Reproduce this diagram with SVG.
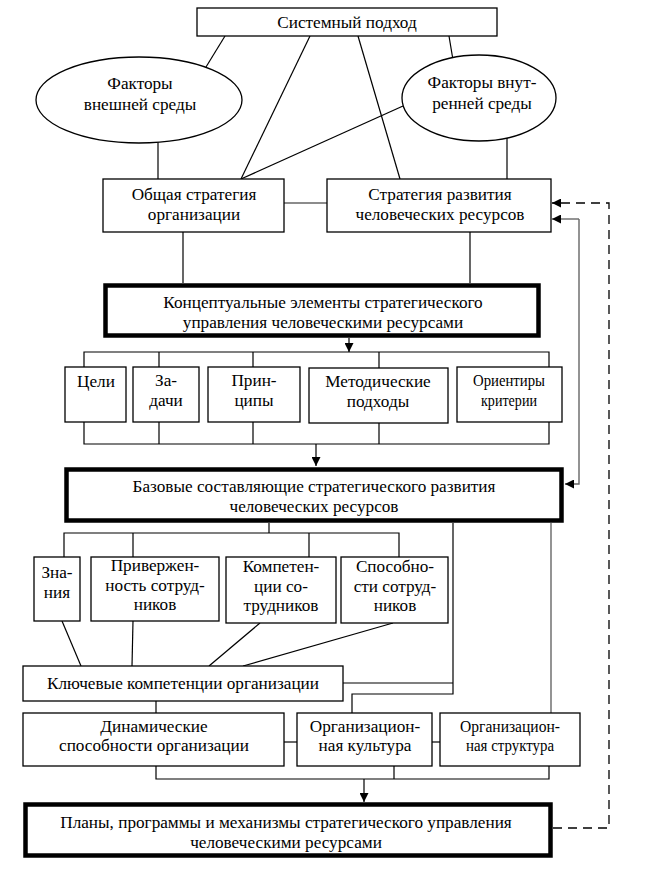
<svg xmlns="http://www.w3.org/2000/svg" width="646" height="872" viewBox="0 0 646 872">
<style>
.b{fill:#fff;stroke:#000;stroke-width:1.3}
.k{fill:#fff;stroke:#000;stroke-width:4.5}
.t{font-family:"Liberation Serif","DejaVu Serif",serif;font-size:17.2px;fill:#000;text-anchor:middle}
.l{fill:none;stroke:#000;stroke-width:1.2}
.g{fill:none;stroke:#666;stroke-width:1.4}
.d{fill:none;stroke:#000;stroke-width:1.3;stroke-dasharray:9,6}
</style>
<defs>
<marker id="a" viewBox="0 0 10 10" refX="10" refY="5" markerWidth="10" markerHeight="9" markerUnits="userSpaceOnUse" orient="auto">
<path d="M0,0 L10,5 L0,10 z" fill="#000"/>
</marker>
</defs>
<rect width="646" height="872" fill="#fff"/>
<g id="connectors">
<line class="l" x1="225" y1="36" x2="206" y2="67"/>
<line class="l" x1="310" y1="36" x2="241" y2="179"/>
<line class="l" x1="358" y1="36" x2="400" y2="179"/>
<line class="l" x1="449" y1="36" x2="453" y2="60"/>
<line class="l" x1="403" y1="106" x2="241" y2="179"/>
<line class="l" x1="158" y1="141" x2="158" y2="179"/>
<line class="l" x1="507" y1="138" x2="507" y2="179"/>
<line class="g" x1="284" y1="203" x2="327" y2="203"/>
<line class="l" x1="183" y1="232" x2="183" y2="283"/>
<line class="l" x1="470" y1="232" x2="470" y2="283"/>
<line class="l" x1="349" y1="338" x2="349" y2="352" marker-end="url(#a)"/>
<path class="l" d="M84,367 V352 H549 V367 M159,352 V367 M253,352 V367 M379,352 V368"/>
<path class="l" d="M84,422 V444 H549 V422 M159,422 V444 M253,422 V444 M379,423 V444"/>
<line class="l" x1="316" y1="444" x2="316" y2="466" marker-end="url(#a)"/>
<path class="g" d="M579,219 V484 H565" marker-end="url(#a)"/>
<path class="g" d="M579,219 H552" marker-end="url(#a)"/>
<path class="d" d="M553,828 H609 V203 H552" marker-end="url(#a)"/>
<path class="l" d="M269,523 V533 M64,557 V533 H399 V557 M133,533 V557 M309,533 V557"/>
<line class="l" x1="62" y1="621" x2="81" y2="666"/>
<line class="l" x1="133" y1="621" x2="132" y2="666"/>
<line class="l" x1="260" y1="623" x2="209" y2="666"/>
<line class="l" x1="393" y1="623" x2="243" y2="666"/>
<path class="l" d="M343,683 H453 V523 M453,683 V694 H352 V713"/>
<line class="g" x1="551" y1="523" x2="551" y2="713"/>
<line class="l" x1="156" y1="701" x2="156" y2="713"/>
<line class="l" x1="284" y1="742" x2="297" y2="742"/>
<line class="l" x1="432" y1="742" x2="440" y2="742"/>
<path class="l" d="M156,766 V779 H549 V766 M394,766 V779"/>
<line class="l" x1="364" y1="779" x2="364" y2="802" marker-end="url(#a)"/>
</g>
<g id="n-system"><rect class="b" x="197" y="8" width="300" height="28"/><text class="t" x="347" y="28">Системный подход</text></g>
<g id="n-ext"><ellipse class="b" cx="139" cy="100" rx="103" ry="43"/><text class="t" x="140" y="89">Факторы</text><text class="t" x="140" y="110">внешней среды</text></g>
<g id="n-int"><ellipse class="b" cx="479" cy="98" rx="77" ry="43"/><text class="t" x="482" y="88">Факторы внут-</text><text class="t" x="482" y="109">ренней среды</text></g>
<g id="n-gen"><rect class="b" x="103" y="179" width="181" height="53"/><text class="t" x="194" y="200">Общая стратегия</text><text class="t" x="194" y="219.5">организации</text></g>
<g id="n-hr"><rect class="b" x="327" y="179" width="224" height="53"/><text class="t" x="440" y="200">Стратегия развития</text><text class="t" x="440" y="219.5">человеческих ресурсов</text></g>
<g id="n-concept"><rect class="k" x="105.5" y="285.5" width="433" height="50"/><text class="t" x="323" y="308">Концептуальные элементы стратегического</text><text class="t" x="323" y="327.5">управления человеческими ресурсами</text></g>
<g id="n-goals"><rect class="b" x="65" y="367" width="61" height="55"/><text class="t" x="96" y="387">Цели</text></g>
<g id="n-tasks"><rect class="b" x="133" y="367" width="66" height="55"/><text class="t" x="166" y="386">За-</text><text class="t" x="166" y="405.5">дачи</text></g>
<g id="n-princ"><rect class="b" x="208" y="367" width="92" height="55"/><text class="t" x="254" y="386">Прин-</text><text class="t" x="254" y="405.5">ципы</text></g>
<g id="n-method"><rect class="b" x="309" y="368" width="139" height="55"/><text class="t" x="378" y="387">Методические</text><text class="t" x="378" y="406.5">подходы</text></g>
<g id="n-orient"><rect class="b" x="457" y="367" width="105" height="55"/><text class="t" x="509" y="386" textLength="72" lengthAdjust="spacingAndGlyphs">Ориентиры</text><text class="t" x="509" y="405.5" textLength="56" lengthAdjust="spacingAndGlyphs">критерии</text></g>
<g id="n-base"><rect class="k" x="66.5" y="469.5" width="495" height="51"/><text class="t" x="314" y="492">Базовые составляющие стратегического развития</text><text class="t" x="314" y="512">человеческих ресурсов</text></g>
<g id="n-know"><rect class="b" x="34" y="557" width="46" height="64"/><text class="t" x="57" y="578">Зна-</text><text class="t" x="57" y="597.5">ния</text></g>
<g id="n-commit"><rect class="b" x="91" y="557" width="128" height="64"/><text class="t" x="155" y="571">Привержен-</text><text class="t" x="155" y="590.5">ность сотруд-</text><text class="t" x="155" y="610">ников</text></g>
<g id="n-comp"><rect class="b" x="226" y="557" width="110" height="66"/><text class="t" x="281" y="572">Компетен-</text><text class="t" x="281" y="591.5">ции  со-</text><text class="t" x="281" y="611">трудников</text></g>
<g id="n-abil"><rect class="b" x="341" y="557" width="107" height="66"/><text class="t" x="395" y="572">Способно-</text><text class="t" x="395" y="591.5">сти сотруд-</text><text class="t" x="395" y="611">ников</text></g>
<g id="n-key"><rect class="b" x="23" y="666" width="320" height="35"/><text class="t" x="183" y="689">Ключевые компетенции организации</text></g>
<g id="n-dyn"><rect class="b" x="23" y="713" width="261" height="53"/><text class="t" x="154" y="731.5">Динамические</text><text class="t" x="154" y="751">способности организации</text></g>
<g id="n-cult"><rect class="b" x="297" y="713" width="135" height="53"/><text class="t" x="365" y="731.5">Организацион-</text><text class="t" x="365" y="751">ная культура</text></g>
<g id="n-struct"><rect class="b" x="440" y="713" width="140" height="53"/><text class="t" x="510" y="731.5" textLength="100" lengthAdjust="spacingAndGlyphs">Организацион-</text><text class="t" x="510" y="751" textLength="88" lengthAdjust="spacingAndGlyphs">ная структура</text></g>
<g id="n-plans"><rect class="k" x="25.5" y="804.5" width="525" height="51"/><text class="t" x="286" y="828">Планы, программы и механизмы стратегического управления</text><text class="t" x="286" y="848">человеческими ресурсами</text></g>
</svg>
